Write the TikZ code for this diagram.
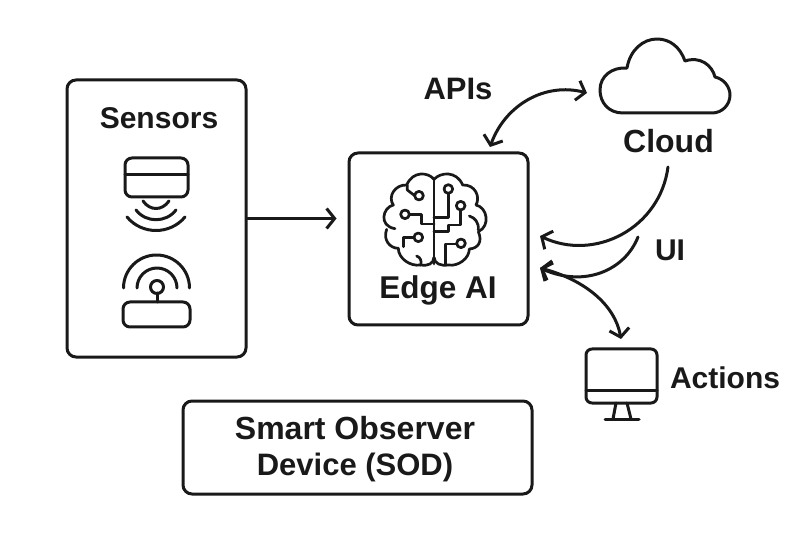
\documentclass[tikz,border=0pt]{standalone}
\usepackage{fontspec}
\setmainfont{Liberation Sans}
\usetikzlibrary{arrows.meta}
\tikzset{
    line/.style={line width=3pt, line cap=round, line join=round, color=black!90},
    thinline/.style={line, line width=2.7pt},
    panel/.style={draw=black!90, line width=3pt, rounded corners=9pt, inner sep=0pt},
    label/.style={font=\fontsize{30}{36}\selectfont\bfseries, text=black!90, inner sep=0pt, align=center},
    link/.style={line, {Straight Barb[length=8pt,width=20pt,line width=3pt]}-{Straight Barb[length=8pt,width=20pt,line width=3pt]}},
    linkto/.style={line, -{Straight Barb[length=8pt,width=20pt,line width=3pt]}}
}
\begin{document}
\begin{tikzpicture}[x=1pt,y=-1pt]
    \useasboundingbox (0,0) rectangle (806,537);

    % Boites
    \node[panel, minimum width=179pt, minimum height=277pt] (sensors) at (156.5,218.5) {};
    \node[panel, minimum width=179pt, minimum height=172pt] (edge) at (438.5,239) {};
    \node[panel, minimum width=349pt, minimum height=93pt] (sod) at (357.5,447.5) {};

    % Textes
    \node[label] (sensorstext) at (159,118) {Sensors};
    \node[label, font=\fontsize{31.5}{36}\selectfont\bfseries] (edgetext) at (438,290) {Edge AI};
    \node[label, font=\fontsize{31}{36}\selectfont\bfseries] (apis) at (458,89) {APIs};
    \node[label, font=\fontsize{32}{36}\selectfont\bfseries] (cloudtext) at (668.5,141) {Cloud};
    \node[label] (ui) at (670,250) {UI};
    \node[label] (actions) at (725,378) {Actions};
    \node[label, font=\fontsize{32}{36}\selectfont\bfseries] (sodtext) at (355,449) {Smart Observer\\\fontsize{31}{36}\selectfont Device (SOD)};

    % Capteur du haut
    \draw[line] (125,165) arc[start angle=180, end angle=270, radius=7] -- (181,158)
        arc[start angle=-90, end angle=0, radius=7] -- (188,190)
        arc[start angle=0, end angle=90, radius=7] -- (132,197)
        arc[start angle=90, end angle=180, radius=7] -- cycle;
    \draw[line] (125,175) -- (188,175);
    \draw[line] (143,201) .. controls (150,211) and (162,211) .. (169,201);
    \draw[line] (136,210) .. controls (146,223) and (166,223) .. (176,210);
    \draw[line] (127,217) .. controls (142,235) and (170,235) .. (185,217);

    % Capteur du bas
    \draw[line] (130,302) -- (183,302) arc[start angle=-90, end angle=0, radius=7] -- (190,320)
        arc[start angle=0, end angle=90, radius=7] -- (130,327)
        arc[start angle=90, end angle=180, radius=7] -- (123,309)
        arc[start angle=180, end angle=270, radius=7] -- cycle;
    \draw[line] (157,293) -- (157,302);
    \draw[line] (157,287) circle (6.5);
    \draw[line] (137,288) arc[start angle=180, end angle=360, radius=20];
    \draw[line] (123.5,288) arc[start angle=180, end angle=360, radius=33];

    % Cerveau
    \begin{scope}[shift={(350,150)}, scale=1/3, thinline]
        \draw[thinline] (252,342) -- (252,88);
        \draw[thinline] (252,88) .. controls (235,66) and (188,62) .. (170,105)
            .. controls (135,103) and (112,140) .. (130,165)
            .. controls (98,172) and (85,228) .. (135,236);
        \draw[thinline] (110,238) .. controls (98,270) and (120,295) .. (145,295)
            .. controls (145,325) and (180,350) .. (212,345)
            .. controls (235,348) and (250,342) .. (252,322);
        \draw[thinline] (252,88)
            .. controls (272,66) and (320,62) .. (338,105)
            .. controls (375,103) and (392,140) .. (378,165)
            .. controls (412,172) and (422,228) .. (385,245)
            .. controls (398,275) and (385,295) .. (358,297)
            .. controls (358,325) and (325,350) .. (295,345)
            .. controls (272,348) and (254,342) .. (252,322);
        \draw[thinline] (172,105) -- (172,120) -- (194,137);
        \draw[thinline] (207,137) circle (13);
        \draw[thinline] (165,193) circle (13);
        \draw[thinline] (178,193) -- (215,193) -- (215,222) -- (252,222);
        \draw[thinline] (205,262) circle (13);
        \draw[thinline] (192,262) -- (160,262) -- (160,290);
        \draw[thinline] (200,318) .. controls (212,322) and (216,335) .. (212,345);
        \draw[thinline] (295,117) circle (13);
        \draw[thinline] (295,130) -- (295,202) -- (252,202);
        \draw[thinline] (332,167) circle (13);
        \draw[thinline] (332,180) -- (332,225) -- (295,225) -- (295,245) -- (252,245);
        \draw[thinline] (333,280) circle (13);
        \draw[thinline] (320,282) -- (287,282) -- (287,342);
        \draw[thinline] (358,198) .. controls (375,203) and (387,218) .. (385,240);
    \end{scope}

    % Nuage
    \draw[line] (623,113) .. controls (608,113) and (600,102) .. (600,90)
        .. controls (600,76) and (612,67) .. (627,68)
        .. controls (630,50) and (643,39) .. (657,39)
        .. controls (670,39) and (680,47) .. (685,61)
        .. controls (700,56) and (712,65) .. (715,77)
        .. controls (724,79) and (730,87) .. (730,95)
        .. controls (730,105) and (722,113) .. (712,113) -- cycle;

    % Ecran
    \draw[line] (592,349) -- (651,349) arc[start angle=-90, end angle=0, radius=6] -- (657,397)
        arc[start angle=0, end angle=90, radius=6] -- (592,403)
        arc[start angle=90, end angle=180, radius=6] -- (586,355)
        arc[start angle=180, end angle=270, radius=6] -- cycle;
    \draw[line] (586,390) -- (657,390);
    \draw[line] (616,403) -- (613,419);
    \draw[line] (627,403) -- (631,419);
    \draw[line] (605,419) -- (639,419);

    % Points libres des fleches
    \coordinate (apisend) at (490,147);
    \coordinate (cloudend) at (587,93);
    \coordinate (cloudout) at (668,167);
    \coordinate (edgein) at (540,236);
    \coordinate (uiout) at (638,237);
    \coordinate (edgeui) at (540,268);
    \coordinate (screen) at (621,339);

    % Fleches
    \draw[linkto, shorten >=11pt] (sensors.east) -- (sensors.east -| edge.west);
    \draw[link] (apisend) .. controls (505,105) and (545,82) .. (cloudend);
    \draw[linkto] (cloudout) .. controls (660,228) and (595,262) .. (edgein);
    \draw[linkto] (uiout) .. controls (625,270) and (585,288) .. (edgeui);
    \draw[link] (edgeui) .. controls (585,280) and (615,305) .. (screen);
\end{tikzpicture}
\end{document}
